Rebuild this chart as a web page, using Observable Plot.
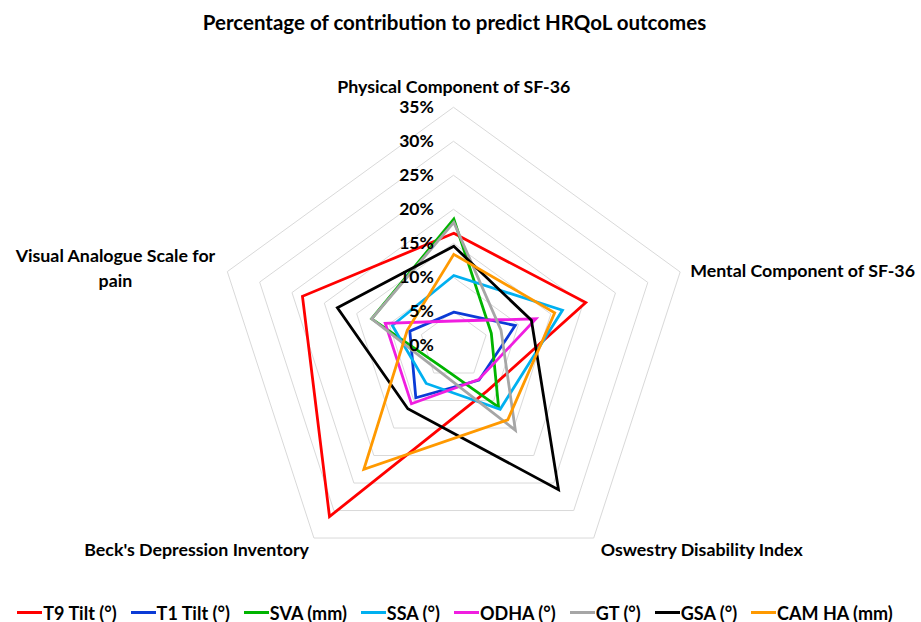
<!DOCTYPE html>
<html>
<head>
<meta charset="utf-8">
<script src="https://cdn.jsdelivr.net/npm/d3@7"></script>
<script src="https://cdn.jsdelivr.net/npm/@observablehq/plot@0.6"></script>
<style>
  body { margin: 0; background: #fff; font-family: Lato, "Open Sans", sans-serif; font-weight: 700; color: #000; }
  #wrap { width: 921px; height: 622px; overflow: hidden; }
  #title { height: 44px; line-height: 44px; font-size: 20.5px; text-align: center; padding-right: 12px; box-sizing: border-box; }
  #chart svg { display: block; }
  #legend { display: flex; justify-content: center; gap: 14px; height: 26px; padding-top: 7px; padding-right: 11px; box-sizing: border-box; font-size: 18px; line-height: 22px; white-space: nowrap; }
  .item { display: flex; align-items: center; }
  .sw { display: inline-block; width: 25px; height: 3px; margin-right: 1px; }
</style>
</head>
<body>
<div id="wrap">
  <div id="title">Percentage of contribution to predict HRQoL outcomes</div>
  <div id="chart"></div>
  <div id="legend"></div>
</div>
<script>
// ---- data ----
const axes = [
  "Physical Component of SF-36",
  "Mental Component of SF-36",
  "Oswestry Disability Index",
  "Beck's Depression Inventory",
  "Visual Analogue Scale for\npain"
];
const seriesNames = ["T9 Tilt (°)", "T1 Tilt (°)", "SVA (mm)", "SSA (°)", "ODHA (°)", "GT (°)", "GSA (°)", "CAM HA (mm)"];
const seriesColors = ["#ff0000", "#0b3bd6", "#00b400", "#00b0f0", "#f01ee0", "#a6a6a6", "#000000", "#ff9900"];
// values in % (order: Physical, Mental, Oswestry, Beck, VAS)
const t9Tilt = [16.5, 20.4, 8.3, 31.1, 23.4];
const t1Tilt = [4.9, 9.5, 6.3, 9.5, 6.8];
const sva    = [18.6, 5.8, 11.2, 3.6, 12.7];
const ssa    = [10.3, 16.8, 11.6, 6.9, 9.5];
const odha   = [3.6, 12.7, 6.2, 10.6, 10.6];
const gt     = [18.1, 7.3, 15.4, 4.3, 12.7];
const gsa    = [14.6, 12.0, 26.2, 11.5, 18.0];
const camHa  = [13.4, 15.6, 13.5, 22.5, 7.2];
const tickValues = [0, 5, 10, 15, 20, 25, 30, 35];

// ---- layout / style ----
const W = 921, H = 552, K = 6.8, CX = 453.3, CY = 301;
const FONT = "Lato, 'Open Sans', sans-serif";
const labelLayout = [
  {anchor: "middle", dx: 0, dy: -22},
  {anchor: "start", dx: 10, dy: -3},
  {anchor: "start", dx: 7, dy: 10},
  {anchor: "end", dx: -5, dy: 10},
  {anchor: "middle", dx: -112, dy: -5}
];

const seriesValues = [t9Tilt, t1Tilt, sva, ssa, odha, gt, gsa, camHa];
const N = axes.length;
const ang = j => j * 2 * Math.PI / N;
const px = d => d.value * Math.sin(ang(d.j));
const py = d => d.value * Math.cos(ang(d.j));

const rows = seriesNames.flatMap((s, i) => seriesValues[i].map((v, j) => ({series: s, j, value: v})));
const maxTick = d3.max(tickValues);
const rings = tickValues.filter(t => t > 0).flatMap(t => axes.map((a, j) => ({ring: t, j, value: t})));
const labels = axes.map((a, j) => ({text: a, j, value: maxTick}));

const labelMarks = labels.map((l, j) => Plot.text([l], {
  x: px, y: py, text: "text",
  textAnchor: labelLayout[j].anchor, dx: labelLayout[j].dx, dy: labelLayout[j].dy,
  fontSize: 17.8, fontWeight: "bold", fontFamily: FONT, lineHeight: 1.4, fill: "#000"
}));

const chart = Plot.plot({
  width: W, height: H, margin: 0,
  x: {domain: [-CX / K, (W - CX) / K], axis: null},
  y: {domain: [-(H - CY) / K, CY / K], axis: null},
  color: {domain: seriesNames, range: seriesColors},
  marks: [
    Plot.line(rings, {x: px, y: py, z: "ring", curve: "linear-closed", stroke: "#d9d9d9", strokeWidth: 1}),
    Plot.line(rows, {x: px, y: py, z: "series", stroke: "series", curve: "linear-closed", strokeWidth: 2.8, strokeLinejoin: "miter", strokeMiterlimit: 4}),
    Plot.text(tickValues, {x: () => 0, y: d => d, text: d => d + "%", textAnchor: "end", dx: -20, fontSize: 17.5, fontWeight: "bold", fontFamily: FONT, fill: "#000"}),
    ...labelMarks
  ]
});
document.getElementById("chart").appendChild(chart);

const legend = document.getElementById("legend");
seriesNames.forEach((s, i) => {
  const it = document.createElement("div");
  it.className = "item";
  const sw = document.createElement("span");
  sw.className = "sw";
  sw.style.background = seriesColors[i];
  const tx = document.createElement("span");
  tx.textContent = s;
  it.appendChild(sw); it.appendChild(tx);
  legend.appendChild(it);
});
</script>
</body>
</html>
